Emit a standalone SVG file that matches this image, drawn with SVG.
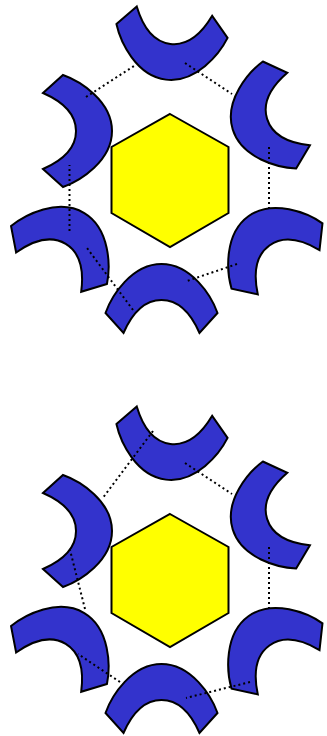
<svg xmlns="http://www.w3.org/2000/svg" xmlns:xlink="http://www.w3.org/1999/xlink" width="327" height="736" viewBox="0 0 327 736">
<style>
.piece{fill:#3333cc;stroke:#000;stroke-width:2;stroke-linejoin:miter}
.hex{fill:#ffff00;stroke:#000;stroke-width:2}
.bond{fill:none;stroke:#000;stroke-width:2;stroke-dasharray:2 3}
</style>
<defs>
<path id="arc" d="M -56 0 L -38 -20 C -31 -4 -20 13 0 13 C 20 13 31 -4 38 -20 L 56 0 C 50 17 30 49 0 49 C -30 49 -50 17 -56 0 Z"/>
</defs>
<rect width="327" height="736" fill="#fff"/>
<g id="top">
<g id="hex1"><polygon class="hex" points="170,114 228.5,147 228.5,213 170,247 111.5,213 111.5,147"/></g>
<g id="p1a"><use xlink:href="#arc" class="piece" transform="translate(172,31) rotate(7.1)"/></g>
<g id="p1b"><use xlink:href="#arc" class="piece" transform="translate(279.5,115) rotate(72.7)"/></g>
<g id="p1c"><use xlink:href="#arc" class="piece" transform="translate(277,256) rotate(144.3)"/></g>
<g id="p1d"><use xlink:href="#arc" class="piece" transform="translate(161.5,313) rotate(180)"/></g>
<g id="p1e"><use xlink:href="#arc" class="piece" transform="translate(59,255) rotate(211.1)"/></g>
<g id="p1f"><use xlink:href="#arc" class="piece" transform="translate(63,131) rotate(270)"/></g>
</g>
<g id="bottom" transform="translate(0,400)">
<g id="hex2"><polygon class="hex" points="170,114 228.5,147 228.5,213 170,247 111.5,213 111.5,147"/></g>
<g id="p2a"><use xlink:href="#arc" class="piece" transform="translate(172,31) rotate(7.1)"/></g>
<g id="p2b"><use xlink:href="#arc" class="piece" transform="translate(279.5,115) rotate(72.7)"/></g>
<g id="p2c"><use xlink:href="#arc" class="piece" transform="translate(277,256) rotate(144.3)"/></g>
<g id="p2d"><use xlink:href="#arc" class="piece" transform="translate(161.5,313) rotate(180)"/></g>
<g id="p2e"><use xlink:href="#arc" class="piece" transform="translate(59,255) rotate(211.1)"/></g>
<g id="p2f"><use xlink:href="#arc" class="piece" transform="translate(63,131) rotate(270)"/></g>
</g>
<g id="connectors">
<line class="bond" x1="86" y1="97" x2="134" y2="66"/>
<line class="bond" x1="185" y1="63" x2="232" y2="94"/>
<line class="bond" x1="269" y1="147" x2="269" y2="212"/>
<line class="bond" x1="237" y1="264" x2="187" y2="281"/>
<line class="bond" x1="133" y1="310" x2="87" y2="248"/>
<line class="bond" x1="69.5" y1="231" x2="69.5" y2="165"/>
<line class="bond" x1="153" y1="431" x2="102" y2="499"/>
<line class="bond" x1="185" y1="463" x2="232" y2="494"/>
<line class="bond" x1="269" y1="547" x2="269" y2="612"/>
<line class="bond" x1="250" y1="682" x2="186" y2="698"/>
<line class="bond" x1="120" y1="682" x2="78" y2="654"/>
<line class="bond" x1="85" y1="609" x2="70" y2="550"/>
</g>
</svg>
